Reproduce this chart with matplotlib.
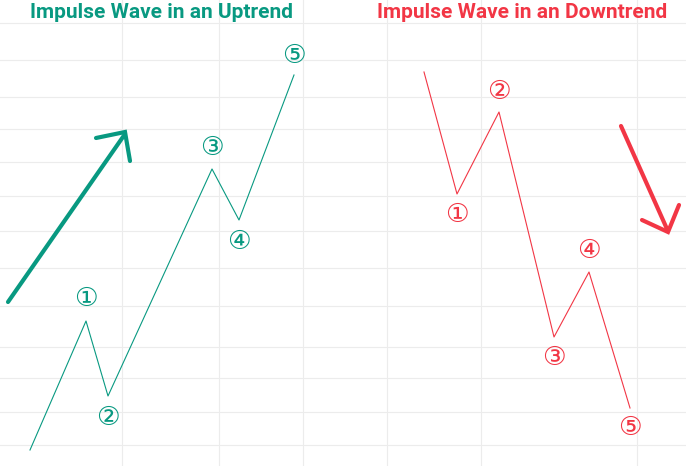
import matplotlib
matplotlib.use("Agg")
import matplotlib.pyplot as plt

GREEN = "#089981"
RED = "#F23645"

up_x = [30, 86, 108, 212, 239, 294]
up_y = [450, 321, 396, 169, 220, 75]
up_label_y = [299, 418, 148, 242, 56]
down_x = [424, 457, 499, 554, 589, 630]
down_y = [72, 194, 112, 337, 272, 408]
down_label_y = [215, 92, 358, 251, 428]
labels = ["①", "②", "③", "④", "⑤"]
grid_x = [122, 219, 303, 387, 481, 637]
grid_y = [23, 60, 97, 129, 162, 196, 231, 268, 306, 347, 378, 412, 445]
titles = ["Impulse Wave in an Uptrend", "Impulse Wave in an Downtrend"]

fig = plt.figure(figsize=(6.86, 4.66), dpi=100)
ax = fig.add_axes([0, 0, 1, 1])
ax.set_xlim(0, 686)
ax.set_ylim(466, 0)
ax.axis("off")

for gx in grid_x:
    ax.axvline(gx, color="#ececec", lw=0.8, zorder=0)
for gy in grid_y:
    ax.axhline(gy, color="#ececec", lw=0.8, zorder=0)

ax.plot(up_x, up_y, color=GREEN, lw=0.8)
ax.plot(down_x, down_y, color=RED, lw=0.8)

for i, lab in enumerate(labels):
    ax.text(up_x[i + 1], up_label_y[i], lab, color=GREEN, fontsize=19,
            ha="center", va="center", family="DejaVu Sans")
    ax.text(down_x[i + 1], down_label_y[i], lab, color=RED, fontsize=19,
            ha="center", va="center", family="DejaVu Sans")

# trend arrows
ax.plot([8, 125], [302, 134], color=GREEN, lw=3, solid_capstyle="round")
ax.plot([96, 125, 130], [138, 132, 161], color=GREEN, lw=3,
        solid_capstyle="round", solid_joinstyle="miter")
ax.plot([621, 667], [126, 229], color=RED, lw=3, solid_capstyle="round")
ax.plot([642, 668, 679], [220, 232, 205], color=RED, lw=3,
        solid_capstyle="round", solid_joinstyle="miter")

ax.text(162, 13, titles[0], color=GREEN, fontsize=15, fontweight="bold",
        ha="center", va="center", family="Roboto")
ax.text(522, 13, titles[1], color=RED, fontsize=15, fontweight="bold",
        ha="center", va="center", family="Roboto")

fig.savefig("out.png", dpi=100)
